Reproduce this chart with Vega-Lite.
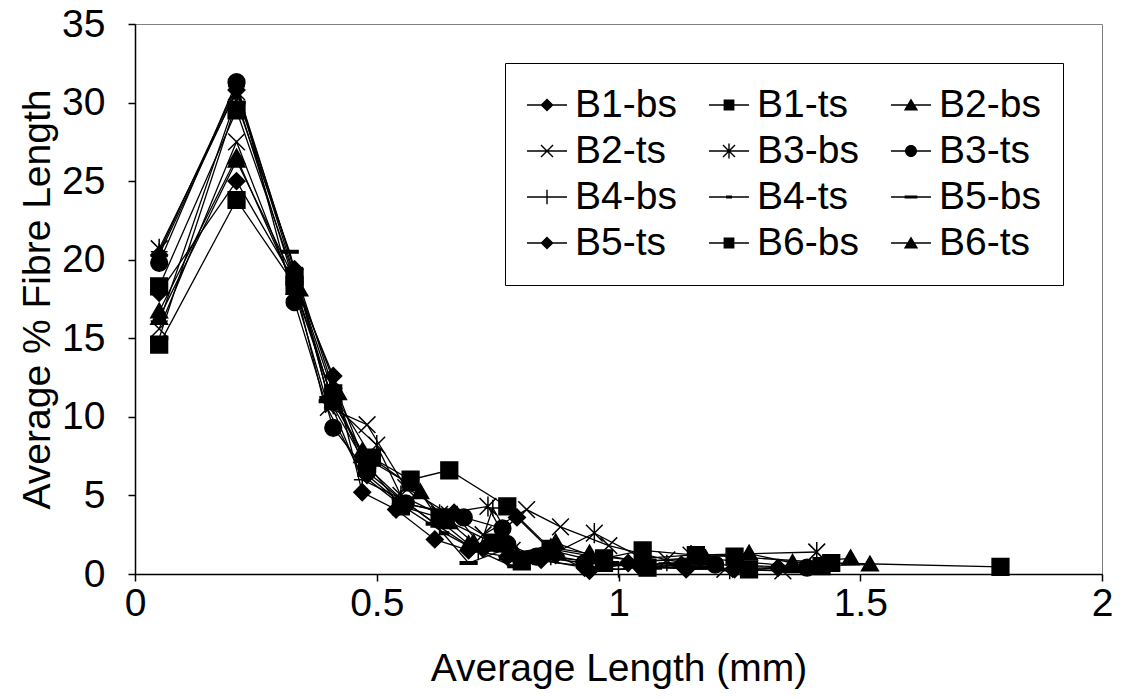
{
  "$schema": "https://vega.github.io/schema/vega-lite/v6.json",
  "autosize": "none",
  "width": 967,
  "height": 550,
  "padding": {"left": 135, "top": 24, "right": 23, "bottom": 125},
  "background": "white",
  "config": {
    "view": {"stroke": "#808080", "strokeWidth": 1},
    "font": "Liberation Sans",
    "axis": {"labelFont": "Liberation Sans", "titleFont": "Liberation Sans", "labelColor": "black", "titleColor": "black", "domainColor": "black", "tickColor": "black", "grid": false, "labelFontSize": 39, "titleFontSize": 39, "titleFontWeight": "normal", "tickSize": 7, "domainWidth": 1.5, "tickWidth": 1.5}
  },
  "data": {"values": [
    {"s":"B1-bs","x":0.05,"y":17.9},{"s":"B1-bs","x":0.21,"y":25.0},{"s":"B1-bs","x":0.33,"y":18.6},{"s":"B1-bs","x":0.41,"y":12.6},{"s":"B1-bs","x":0.47,"y":5.2},{"s":"B1-bs","x":0.54,"y":4.1},{"s":"B1-bs","x":0.62,"y":2.2},{"s":"B1-bs","x":0.69,"y":1.5},{"s":"B1-bs","x":0.77,"y":1.1},{"s":"B1-bs","x":0.84,"y":0.9},{"s":"B1-bs","x":0.93,"y":0.4},{"s":"B1-bs","x":1.04,"y":0.6},{"s":"B1-bs","x":1.14,"y":0.3},{"s":"B1-bs","x":1.33,"y":0.4},
    {"s":"B1-ts","x":0.05,"y":18.3},{"s":"B1-ts","x":0.21,"y":29.5},{"s":"B1-ts","x":0.33,"y":18.9},{"s":"B1-ts","x":0.41,"y":11.5},{"s":"B1-ts","x":0.49,"y":7.4},{"s":"B1-ts","x":0.57,"y":6.0},{"s":"B1-ts","x":0.65,"y":6.6},{"s":"B1-ts","x":0.77,"y":4.3},{"s":"B1-ts","x":0.86,"y":1.6},{"s":"B1-ts","x":0.97,"y":1.0},{"s":"B1-ts","x":1.05,"y":1.5},{"s":"B1-ts","x":1.16,"y":1.2},{"s":"B1-ts","x":1.24,"y":1.1},{"s":"B1-ts","x":1.44,"y":0.7},{"s":"B1-ts","x":1.79,"y":0.45},
    {"s":"B2-bs","x":0.05,"y":16.7},{"s":"B2-bs","x":0.21,"y":26.5},{"s":"B2-bs","x":0.33,"y":18.2},{"s":"B2-bs","x":0.41,"y":11.0},{"s":"B2-bs","x":0.47,"y":7.8},{"s":"B2-bs","x":0.59,"y":5.2},{"s":"B2-bs","x":0.63,"y":3.4},{"s":"B2-bs","x":0.69,"y":1.9},{"s":"B2-bs","x":0.79,"y":1.2},{"s":"B2-bs","x":0.87,"y":2.0},{"s":"B2-bs","x":0.94,"y":1.2},{"s":"B2-bs","x":1.05,"y":0.8},{"s":"B2-bs","x":1.27,"y":1.3},{"s":"B2-bs","x":1.36,"y":0.7},{"s":"B2-bs","x":1.48,"y":1.0},
    {"s":"B2-ts","x":0.05,"y":15.6},{"s":"B2-ts","x":0.21,"y":27.5},{"s":"B2-ts","x":0.33,"y":18.0},{"s":"B2-ts","x":0.40,"y":10.6},{"s":"B2-ts","x":0.48,"y":9.5},{"s":"B2-ts","x":0.56,"y":5.5},{"s":"B2-ts","x":0.65,"y":3.8},{"s":"B2-ts","x":0.72,"y":2.5},{"s":"B2-ts","x":0.81,"y":4.1},{"s":"B2-ts","x":0.88,"y":3.0},{"s":"B2-ts","x":0.98,"y":1.8},{"s":"B2-ts","x":1.10,"y":0.9},{"s":"B2-ts","x":1.22,"y":0.3},{"s":"B2-ts","x":1.34,"y":0.2},
    {"s":"B3-bs","x":0.05,"y":20.7},{"s":"B3-bs","x":0.21,"y":30.7},{"s":"B3-bs","x":0.33,"y":19.0},{"s":"B3-bs","x":0.41,"y":10.8},{"s":"B3-bs","x":0.50,"y":8.2},{"s":"B3-bs","x":0.55,"y":5.0},{"s":"B3-bs","x":0.63,"y":3.8},{"s":"B3-bs","x":0.73,"y":4.3},{"s":"B3-bs","x":0.78,"y":1.5},{"s":"B3-bs","x":0.86,"y":1.2},{"s":"B3-bs","x":0.95,"y":2.6},{"s":"B3-bs","x":1.05,"y":1.0},{"s":"B3-bs","x":1.15,"y":1.2},{"s":"B3-bs","x":1.41,"y":1.4},
    {"s":"B3-ts","x":0.05,"y":19.8},{"s":"B3-ts","x":0.21,"y":31.3},{"s":"B3-ts","x":0.33,"y":17.3},{"s":"B3-ts","x":0.41,"y":9.3},{"s":"B3-ts","x":0.48,"y":6.5},{"s":"B3-ts","x":0.56,"y":4.5},{"s":"B3-ts","x":0.68,"y":3.6},{"s":"B3-ts","x":0.76,"y":2.9},{"s":"B3-ts","x":0.77,"y":1.9},{"s":"B3-ts","x":0.83,"y":1.1},{"s":"B3-ts","x":0.93,"y":0.7},{"s":"B3-ts","x":1.05,"y":0.5},{"s":"B3-ts","x":1.20,"y":0.6},{"s":"B3-ts","x":1.39,"y":0.4},
    {"s":"B4-bs","x":0.05,"y":20.5},{"s":"B4-bs","x":0.21,"y":31.0},{"s":"B4-bs","x":0.33,"y":19.3},{"s":"B4-bs","x":0.40,"y":11.2},{"s":"B4-bs","x":0.47,"y":6.0},{"s":"B4-bs","x":0.55,"y":4.8},{"s":"B4-bs","x":0.63,"y":3.0},{"s":"B4-bs","x":0.71,"y":1.4},{"s":"B4-bs","x":0.74,"y":4.2},{"s":"B4-bs","x":0.80,"y":1.0},{"s":"B4-bs","x":0.93,"y":0.5},{"s":"B4-bs","x":1.00,"y":0.3},{"s":"B4-bs","x":1.10,"y":0.7},{"s":"B4-bs","x":1.23,"y":0.2},
    {"s":"B4-ts","x":0.05,"y":16.0},{"s":"B4-ts","x":0.21,"y":30.3},{"s":"B4-ts","x":0.33,"y":18.5},{"s":"B4-ts","x":0.39,"y":11.0},{"s":"B4-ts","x":0.47,"y":6.3},{"s":"B4-ts","x":0.55,"y":4.4},{"s":"B4-ts","x":0.64,"y":2.6},{"s":"B4-ts","x":0.70,"y":1.6},{"s":"B4-ts","x":0.78,"y":0.5},{"s":"B4-ts","x":0.88,"y":1.0},{"s":"B4-ts","x":0.99,"y":0.7},{"s":"B4-ts","x":1.08,"y":0.4},{"s":"B4-ts","x":1.26,"y":0.3},
    {"s":"B5-bs","x":0.05,"y":15.0},{"s":"B5-bs","x":0.21,"y":30.0},{"s":"B5-bs","x":0.32,"y":20.5},{"s":"B5-bs","x":0.40,"y":11.2},{"s":"B5-bs","x":0.48,"y":6.8},{"s":"B5-bs","x":0.55,"y":4.8},{"s":"B5-bs","x":0.62,"y":3.2},{"s":"B5-bs","x":0.69,"y":0.7},{"s":"B5-bs","x":0.76,"y":1.5},{"s":"B5-bs","x":0.84,"y":1.3},{"s":"B5-bs","x":0.93,"y":0.8},{"s":"B5-bs","x":1.04,"y":0.5},{"s":"B5-bs","x":1.17,"y":0.4},{"s":"B5-bs","x":1.35,"y":0.2},
    {"s":"B5-ts","x":0.05,"y":20.3},{"s":"B5-ts","x":0.21,"y":30.8},{"s":"B5-ts","x":0.33,"y":19.4},{"s":"B5-ts","x":0.41,"y":11.8},{"s":"B5-ts","x":0.48,"y":6.3},{"s":"B5-ts","x":0.55,"y":4.5},{"s":"B5-ts","x":0.66,"y":3.9},{"s":"B5-ts","x":0.72,"y":1.6},{"s":"B5-ts","x":0.79,"y":3.6},{"s":"B5-ts","x":0.87,"y":1.2},{"s":"B5-ts","x":0.94,"y":0.2},{"s":"B5-ts","x":1.02,"y":0.7},{"s":"B5-ts","x":1.13,"y":0.6},{"s":"B5-ts","x":1.24,"y":0.3},
    {"s":"B6-bs","x":0.05,"y":14.6},{"s":"B6-bs","x":0.21,"y":23.8},{"s":"B6-bs","x":0.33,"y":18.4},{"s":"B6-bs","x":0.41,"y":11.0},{"s":"B6-bs","x":0.48,"y":7.0},{"s":"B6-bs","x":0.55,"y":4.3},{"s":"B6-bs","x":0.63,"y":3.6},{"s":"B6-bs","x":0.74,"y":2.0},{"s":"B6-bs","x":0.80,"y":0.8},{"s":"B6-bs","x":0.86,"y":1.5},{"s":"B6-bs","x":0.97,"y":0.7},{"s":"B6-bs","x":1.06,"y":0.4},{"s":"B6-bs","x":1.27,"y":0.3},{"s":"B6-bs","x":1.42,"y":0.5},
    {"s":"B6-ts","x":0.05,"y":16.3},{"s":"B6-ts","x":0.21,"y":26.3},{"s":"B6-ts","x":0.34,"y":18.1},{"s":"B6-ts","x":0.42,"y":11.5},{"s":"B6-ts","x":0.47,"y":7.5},{"s":"B6-ts","x":0.57,"y":5.7},{"s":"B6-ts","x":0.65,"y":3.3},{"s":"B6-ts","x":0.70,"y":2.0},{"s":"B6-ts","x":0.77,"y":1.3},{"s":"B6-ts","x":0.86,"y":1.7},{"s":"B6-ts","x":0.94,"y":1.3},{"s":"B6-ts","x":1.05,"y":0.8},{"s":"B6-ts","x":1.18,"y":1.0},{"s":"B6-ts","x":1.36,"y":0.5},{"s":"B6-ts","x":1.52,"y":0.6}
  ]},
  "encoding": {
    "x": {"field": "x", "type": "quantitative", "scale": {"domain": [0, 2], "nice": false, "zero": true},
      "axis": {"values": [0, 0.5, 1, 1.5, 2], "format": "~g", "title": "Average Length (mm)", "labelPadding": 3, "titlePadding": 26, "labelFlush": false}},
    "y": {"field": "y", "type": "quantitative", "scale": {"domain": [0, 35], "nice": false},
      "axis": {"values": [0, 5, 10, 15, 20, 25, 30, 35], "title": "Average % Fibre Length", "labelPadding": 23, "titlePadding": 4, "labelFlush": false}}
  },
  "layer": [
    {
      "mark": {"type": "line", "color": "black", "strokeWidth": 1.3},
      "encoding": {"detail": {"field": "s"}}
    },
    {
      "mark": {"type": "point", "filled": true, "fill": "black", "stroke": "black", "strokeWidth": 1.5, "size": 280, "opacity": 1},
      "encoding": {
        "shape": {"field": "s", "type": "nominal", "legend": null,
          "scale": {
            "domain": ["B1-bs","B1-ts","B2-bs","B2-ts","B3-bs","B3-ts","B4-bs","B4-ts","B5-bs","B5-ts","B6-bs","B6-ts"],
            "range": ["diamond","square","M0,-1L1,0.75L-1,0.75Z","M-1,-1L1,1M-1,1L1,-1","M-1,-1L1,1M-1,1L1,-1M0,-1.2L0,1.2","circle","M-1,0L1,0M0,-1L0,1","M-0.5,-0.15L0.5,-0.15L0.5,0.15L-0.5,0.15Z","M-1,-0.15L1,-0.15L1,0.15L-1,0.15Z","diamond","square","M0,-1L1,0.75L-1,0.75Z"]
          }}
      }
    },
    {
      "transform": [{"filter": "datum.y > 1000"}],
      "mark": {"type": "point", "filled": true, "fill": "black", "size": 1600, "opacity": 1},
      "encoding": {
        "shape": {"field": "s", "type": "nominal",
          "scale": {
            "domain": ["B1-bs","B1-ts","B2-bs","B2-ts","B3-bs","B3-ts","B4-bs","B4-ts","B5-bs","B5-ts","B6-bs","B6-ts"],
            "range": [
              "M-1,-0.035L1,-0.035L1,0.035L-1,0.035Z M-0.33,0L0,-0.33L0.33,0L0,0.33Z",
              "M-1,-0.035L1,-0.035L1,0.035L-1,0.035Z M-0.27,-0.27L0.27,-0.27L0.27,0.27L-0.27,0.27Z",
              "M-1,-0.035L1,-0.035L1,0.035L-1,0.035Z M0,-0.33L0.36,0.27L-0.36,0.27Z",
              "M-1,-0.035L1,-0.035L1,0.035L-1,0.035Z M-0.275,-0.325L0.325,0.275L0.275,0.325L-0.325,-0.275Z M0.275,-0.325L0.325,-0.275L-0.275,0.325L-0.325,0.275Z",
              "M-1,-0.035L1,-0.035L1,0.035L-1,0.035Z M-0.275,-0.325L0.325,0.275L0.275,0.325L-0.325,-0.275Z M0.275,-0.325L0.325,-0.275L-0.275,0.325L-0.325,0.275Z M-0.035,-0.38L0.035,-0.38L0.035,0.38L-0.035,0.38Z",
              "M-1,-0.035L1,-0.035L1,0.035L-1,0.035Z M-0.3,0A0.3,0.3 0 1,1 0.3,0A0.3,0.3 0 1,1 -0.3,0Z",
              "M-1,-0.035L1,-0.035L1,0.035L-1,0.035Z M-0.035,-0.36L0.035,-0.36L0.035,0.36L-0.035,0.36Z",
              "M-1,-0.035L1,-0.035L1,0.035L-1,0.035Z M-0.15,-0.08L0.15,-0.08L0.15,0.08L-0.15,0.08Z",
              "M-1,-0.035L1,-0.035L1,0.035L-1,0.035Z M-0.32,-0.08L0.32,-0.08L0.32,0.08L-0.32,0.08Z",
              "M-1,-0.035L1,-0.035L1,0.035L-1,0.035Z M-0.33,0L0,-0.33L0.33,0L0,0.33Z",
              "M-1,-0.035L1,-0.035L1,0.035L-1,0.035Z M-0.27,-0.27L0.27,-0.27L0.27,0.27L-0.27,0.27Z",
              "M-1,-0.035L1,-0.035L1,0.035L-1,0.035Z M0,-0.33L0.36,0.27L-0.36,0.27Z"
            ]
          },
          "legend": {"title": null, "orient": "top-right", "direction": "horizontal", "offset": 39, "columns": 3, "columnPadding": 32, "rowPadding": 6, "padding": 22,
            "labelFont": "Liberation Sans", "labelFontSize": 39, "labelColor": "black", "labelOffset": 8, "labelLimit": 300,
            "symbolSize": 1600, "symbolStrokeWidth": 0, "symbolFillColor": "black", "symbolOpacity": 1,
            "strokeColor": "black", "fillColor": "white", "cornerRadius": 0}
        }
      }
    }
  ],
  "resolve": {"scale": {"shape": "independent"}}
}
